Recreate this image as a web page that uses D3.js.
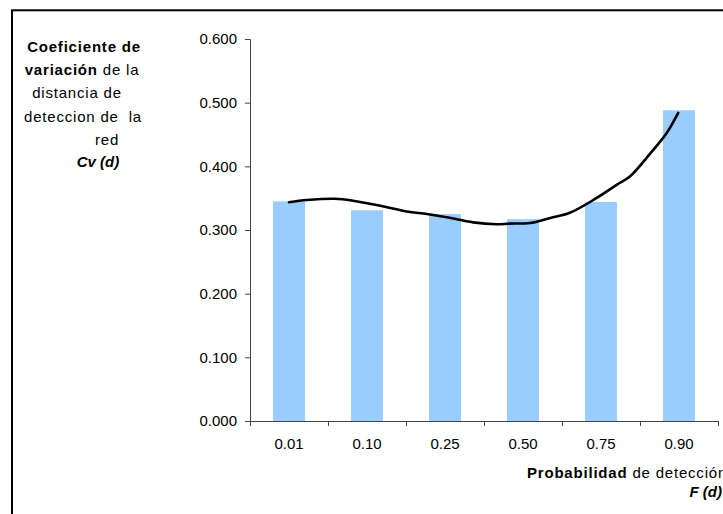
<!DOCTYPE html>
<html>
<head>
<meta charset="utf-8">
<script src="https://cdn.jsdelivr.net/npm/d3@7"></script>
<style>
  html, body { margin: 0; padding: 0; background: #fff; }
  svg { display: block; font-family: "Liberation Sans", Arial, sans-serif; }
</style>
</head>
<body>
<svg id="chart" width="723" height="514"></svg>
<script>
// ---- data ----
const categories = ["0.01", "0.10", "0.25", "0.50", "0.75", "0.90"];
const cvValues = [0.345, 0.331, 0.325, 0.317, 0.344, 0.488];
const yTicks = [0, 0.1, 0.2, 0.3, 0.4, 0.5, 0.6];
// trend line: position (in category units from first bar) and value
const trendPos = [0, 0.23, 0.59, 0.82, 1.17, 1.51, 1.77, 2.02, 2.36, 2.66, 2.83, 3.09, 3.35, 3.60, 3.94, 4.20, 4.37, 4.63, 4.84, 4.99];
const trendVal = [0.3435, 0.347, 0.349, 0.346, 0.338, 0.329, 0.325, 0.320, 0.312, 0.309, 0.310, 0.311, 0.319, 0.327, 0.350, 0.371, 0.384, 0.420, 0.452, 0.484];
const yLabelLines = [
  [{t: "Coeficiente de", b: true}],
  [{t: "variación", b: true}, {t: " de la", b: false}],
  [{t: "distancia de", b: false}],
  [{t: "deteccion de  la", b: false}],
  [{t: "red", b: false}],
  [{t: "Cv (d)", b: true, i: true}]
];

const svg = d3.select("#chart");

// outer border
svg.append("rect")
  .attr("x", 12).attr("y", 10.3)
  .attr("width", 800).attr("height", 600)
  .attr("fill", "none").attr("stroke", "#000").attr("stroke-width", 2);

const x0 = 250, x1 = 718, yBase = 421, yTop = 39;

const x = d3.scaleBand().domain(categories).range([x0, x1]).paddingInner(0).paddingOuter(0);
const y = d3.scaleLinear().domain([0, 0.6]).range([yBase, yTop]);
const xPos = d3.scaleLinear().domain([0, 5]).range([x(categories[0]) + x.bandwidth() / 2, x(categories[5]) + x.bandwidth() / 2]);

const barW = x.bandwidth() * 0.41;

// bars
svg.append("g").selectAll("rect").data(cvValues).join("rect")
  .attr("x", (d, i) => x(categories[i]) + (x.bandwidth() - barW) / 2)
  .attr("y", d => y(d))
  .attr("width", barW)
  .attr("height", d => yBase - y(d))
  .attr("fill", "#99ccff");

// y axis
const yAxis = d3.axisLeft(y).tickValues(yTicks).tickFormat(d3.format(".3f")).tickSize(5).tickPadding(8);
const gy = svg.append("g").attr("transform", `translate(${x0},0)`).call(yAxis);
gy.select(".domain").attr("stroke", "#444").attr("d", `M-5,${yTop}.5H0.5V${yBase}`);
gy.selectAll(".tick line").attr("stroke", "#444");
gy.selectAll(".tick text").attr("font-size", 15).attr("fill", "#000")
  .attr("font-family", "Liberation Sans, Arial, sans-serif");

// x axis
const xAxis = d3.axisBottom(x).tickSize(0).tickPadding(17);
const gx = svg.append("g").attr("transform", `translate(0,${yBase})`).call(xAxis);
gx.select(".domain").attr("stroke", "#444");
gx.selectAll(".tick text").attr("font-size", 15).attr("fill", "#000")
  .attr("font-family", "Liberation Sans, Arial, sans-serif");
// category boundary tick marks
const bounds = categories.map(c => x(c)).concat([x1]);
gx.selectAll(".bound").data(bounds).join("line").attr("class", "bound")
  .attr("x1", d => Math.round(d) + 0.5).attr("x2", d => Math.round(d) + 0.5)
  .attr("y1", 0).attr("y2", 5).attr("stroke", "#444");

// trend line
const line = d3.line().x((d, i) => xPos(trendPos[i])).y(d => y(d)).curve(d3.curveCatmullRom);
svg.append("path").datum(trendVal)
  .attr("d", line)
  .attr("fill", "none").attr("stroke", "#000").attr("stroke-width", 2.6)
  .attr("stroke-linecap", "round");

// y axis title
const centers = [84, 82, 77, 83, 107, 98];
const baselines = [52, 75, 98, 121.5, 144.5, 166.5];
yLabelLines.forEach((parts, li) => {
  const t = svg.append("text")
    .attr("x", centers[li]).attr("y", baselines[li])
    .attr("text-anchor", "middle").attr("font-size", 15).attr("fill", "#000");
  parts.forEach(p => {
    t.append("tspan").text(p.t)
      .attr("font-weight", p.b ? "bold" : "normal")
      .attr("font-style", p.i ? "italic" : "normal")
      .attr("letter-spacing", p.i ? 0 : 0.8)
      .attr("xml:space", "preserve");
  });
});

// x axis title
const xt = svg.append("text").attr("x", 527).attr("y", 478).attr("font-size", 15).attr("fill", "#000").attr("letter-spacing", 0.8);
xt.append("tspan").text("Probabilidad").attr("font-weight", "bold");
xt.append("tspan").text(" de detección");
svg.append("text").attr("x", 722).attr("y", 497).attr("text-anchor", "end")
  .attr("font-size", 15).attr("font-weight", "bold").attr("font-style", "italic").text("F (d)");
</script>
</body>
</html>
